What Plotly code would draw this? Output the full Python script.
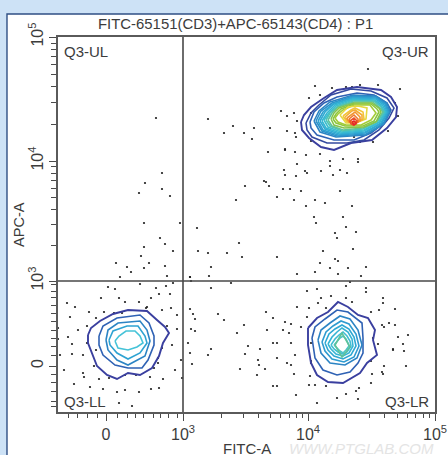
import plotly.graph_objects as go

# Display channels of the cytometer plot (biexponential scale, one channel unit per display step)
x_range = [0, 377]
y_range = [0, 375]
x_major = [48, 125, 250, 377]
y_major = [46, 131, 251, 375]
x_labels = ["0", "10<sup>3</sup>", "10<sup>4</sup>", "10<sup>5</sup>"]
y_labels = ["0", "10<sup>3</sup>", "10<sup>4</sup>", "10<sup>5</sup>"]
x_minor = [10, 19, 29, 39, 59, 69, 77, 85, 95, 102, 110, 119, 163, 185, 200, 212, 222, 231, 238, 244,
           288, 311, 326, 339, 349, 357, 365, 371]
y_minor = [6, 11, 21, 30, 38, 57, 66, 74, 82, 91, 99, 107, 115, 121, 128, 167, 188, 203, 215, 224, 232, 239, 246,
           288, 310, 326, 338, 348, 356, 363, 369]
gate_x = 125
gate_y = 131

ul_events = [(98,294),(150,293),(166,279),(104,239),(87,229),(104,223),(81,219),(112,216),(86,189),(122,189),(139,184),
             (102,174),(107,168),(86,165),(115,161),(83,156),(58,149),(91,149),(69,145),(86,144),(107,146),(73,140),(109,136),(62,135)]
ur_events = [(310,343),(257,326),(274,324),(288,325),(294,325),(302,327),(320,327),(342,323),(251,314),(262,317),(337,309),
             (223,301),(229,296),(236,299),(253,299),(239,291),(340,296),(175,286),(196,284),(212,284),(186,279),(229,281),
             (237,279),(238,275),(194,273),(330,281),(253,271),(296,275),(302,270),(315,270),(227,263),(227,262),(210,260),
             (237,260),(248,257),(262,258),(272,251),(285,253),(300,253),(300,250),(272,246),(239,248),(226,242),(227,237),
             (238,236),(247,241),(249,239),(263,241),(275,237),(282,242),(289,239),(206,231),(208,230),(211,226),(187,226),
             (225,223),(232,223),(243,221),(282,221),(219,215),(178,212),(236,212),(257,212),(267,209),(248,206),(294,206),
             (256,195),(285,195),(258,189),(288,185),(277,179),(298,180),(279,174),(181,169),(295,163),(265,161),(169,159),
             (184,155),(219,155),(277,153),(280,151),(262,149),(272,144),(290,144),(308,145),(257,140),(239,138),(280,138),
             (303,136),(140,161),(150,159),(153,145),(132,135),(151,136),(133,131)]
ll_events = [(115,129),(82,128),(50,125),(57,123),(98,124),(108,126),(101,118),(112,118),(43,114),(61,114),(93,114),
             (67,110),(81,110),(9,109),(17,105),(89,105),(88,104),(104,102),(113,104),(31,100),(46,100),(56,99),(64,99),
             (119,97),(12,95),(38,94),(29,86),(109,86),(0,84),(20,82),(119,83),(10,75),(0,73),(14,68),(29,69),(114,67),
             (104,64),(38,62),(2,57),(14,58),(25,57),(100,54),(123,52),(100,49),(36,46),(96,44),(6,42),(117,42),(25,39),
             (26,35),(41,33),(51,34),(67,37),(78,37),(92,35),(105,33),(124,34),(16,28),(32,25),(45,23),(67,22),(59,20),
             (81,20),(93,23),(101,24),(61,9),(74,6)]
lr_events = [(173,129),(292,130),(288,126),(249,121),(259,123),(308,124),(308,120),(273,116),(263,114),(288,114),(325,114),
             (260,109),(294,110),(325,109),(239,105),(251,104),(268,104),(321,102),(337,103),(208,100),(313,100),(249,95),
             (215,94),(166,92),(227,90),(186,87),(233,88),(243,85),(324,87),(326,85),(331,89),(337,87),(209,82),(225,82),
             (231,79),(179,79),(340,75),(350,77),(315,74),(215,69),(219,69),(233,69),(253,69),(320,68),(345,68),(190,66),
             (202,63),(335,63),(335,62),(346,61),(187,58),(237,57),(219,54),(200,52),(253,51),(253,49),(229,49),(201,47),
             (233,47),(313,51),(326,46),(348,46),(182,43),(207,43),(324,40),(325,38),(199,37),(236,38),(314,38),(252,36),
             (313,29),(251,27),(257,27),(268,26),(215,26),(219,26),(301,24),(298,21),(288,18),(238,17),(279,14),(300,13),
             (259,9),(132,103),(135,98),(160,98),(137,93),(133,83),(137,81),(130,69),(153,63),(132,59),(150,57),(134,48),
             (153,124),(132,135)]

ll_contours = [
    [(30,77),(33,84),(42,91),(55,98),(70,102),(89,101),(99,92),(107,85),(111,79),(105,69),(101,56),(94,44),(82,37),(70,39),(59,33),(49,37),(39,46),(34,59),(30,69)],
    [(41,76),(45,86),(59,94),(82,97),(91,89),(96,76),(96,67),(90,52),(84,44),(70,44),(57,47),(45,57),(41,67)],
    [(48,72),(50,82),(60,89),(82,91),(89,82),(92,71),(87,56),(70,47),(59,52),(50,62)],
    [(51,72),(55,81),(69,86),(80,86),(87,76),(89,69),(82,59),(70,53),(59,59),(52,67)],
    [(57,71),(61,76),(68,81),(77,81),(82,76),(85,69),(79,65),(70,62),(60,64)],
]
ll_colors = ["#3a3f9f", "#2f62b4", "#2c84c4", "#2ea3d2", "#45c3d8"]

lr_contours = [
    [(250,84),(259,94),(270,100),(280,110),(290,105),(300,97),(310,94),(317,82),(315,72),(319,57),(309,49),(302,39),(285,29),(270,30),(259,37),(253,49),(250,67)],
    [(254,74),(257,85),(267,93),(279,102),(290,100),(304,89),(305,74),(305,59),(300,49),(292,40),(279,37),(265,42),(257,54)],
    [(260,72),(263,82),(272,89),(282,96),(292,93),(300,82),(304,67),(299,54),(287,47),(272,49),(263,59)],
    [(264,70),(268,80),(275,86),(283,91),(291,88),(298,78),(301,66),(296,55),(286,50),(274,53),(267,61)],
    [(267,69),(271,78),(277,83),(284,87),(291,83),(296,75),(298,66),(293,57),(285,53),(276,56),(270,62)],
    [(270,68),(274,75),(279,80),(284,84),(290,80),(294,73),(295,66),(291,59),(285,56),(278,58),(273,63)],
    [(273,67),(277,73),(281,77),(285,80),(289,76),(292,71),(293,66),(289,60),(285,58),(280,60),(276,63)],
    [(276,67),(279,71),(282,74),(285,76),(288,73),(290,69),(291,66),(288,62),(285,59),(282,61),(279,64)],
    [(277,67),(284,79),(292,65),(284,55)],
]
lr_colors = ["#3a3f9f", "#2f62b4", "#2c84c4", "#2e9bd0", "#2ea8d3", "#35b4d4", "#3fbdd2", "#4cc4c8", "#5fc29a"]

ur_contours = [
    [(243,290),(246,297),(253,305),(266,314),(279,322),(299,325),(323,322),(333,315),(339,305),(338,295),(329,284),(314,272),(293,269),(276,262),(263,265),(251,274),(244,282)],
    [(248,289),(253,299),(261,307),(273,317),(293,323),(313,321),(329,314),(336,304),(331,294),(321,282),(306,272),(289,269),(269,269),(254,275),(249,282)],
    [(252,290),(256,300),(266,309),(279,315),(299,319),(316,317),(329,309),(333,302),(326,289),(313,279),(296,272),(276,272),(259,277),(253,284)],
    [(256,291),(261,301),(272,310),(295,317),(318,316),(329,309),(332,300),(326,288),(308,277),(278,275),(262,280)],
    [(258,291),(263,301),(274,309),(295,316),(318,315),(328,308),(331,300),(325,288),(308,278),(279,276),(264,281)],
    [(260,291),(265,300),(275,308),(295,315),(318,314),(327,308),(330,300),(324,289),(307,279),(280,277),(265,282)],
    [(262,291),(267,300),(276,308),(295,314),(318,313),(326,307),(329,300),(323,289),(307,280),(281,278),(267,283)],
    [(264,291),(269,299),(277,307),(295,313),(317,312),(325,306),(328,300),(322,290),(306,281),(282,279),(268,284)],
    [(266,292),(271,299),(278,306),(295,312),(317,311),(324,305),(327,300),(321,290),(306,282),(283,280),(270,285)],
    [(268,292),(272,299),(279,305),(295,311),(316,311),(323,305),(326,300),(320,291),(305,283),(284,281),(272,286)],
    [(270,292),(274,299),(280,305),(296,310),(315,310),(322,304),(325,300),(319,291),(305,284),(285,282),(274,286)],
    [(273,293),(276,299),(281,304),(296,309),(314,309),(321,304),(323,300),(318,290),(306,285),(286,284),(276,287)],
    [(275,293),(278,298),(283,303),(296,308),(313,308),(319,303),(321,300),(316,291),(305,286),(287,286),(278,289)],
    [(277,294),(280,298),(285,302),(296,307),(312,307),(316,302),(318,299),(313,292),(303,287),(288,287),(280,290)],
    [(282,297),(290,305),(300,306),(309,304),(308,293),(298,289),(288,289)],
    [(285,296),(293,302),(297,304),(305,300),(306,293),(297,290),(289,290)],
    [(287,295),(294,301),(297,302),(304,297),(304,292),(296,290),(290,291)],
    [(289,294),(295,299),(297,300),(302,295),(302,291),(296,289),(291,290)],
    [(291,293),(296,297),(300,293),(300,290),(296,288),(292,290)],
    [(292,291),(296,294),(299,291),(298,288),(295,287),(293,288)],
    [(294,290),(296,291),(298,289),(296,287)],
]
ur_colors = ["#3a3f9f", "#34499f", "#2f62b4", "#2c84c4", "#2c92ca", "#2e9fd0", "#30abd3", "#35b6d3", "#3cbecf", "#4cc3bb",
             "#5fc39a", "#86c44c", "#8cc63f", "#a4cc3a", "#e6d93f", "#f2c53a", "#f4ad35", "#f19530", "#ee7a2c", "#e9502a", "#e3262b"]

fig = go.Figure()

for events in (ul_events, ur_events, ll_events, lr_events):
    fig.add_trace(go.Scatter(x=[e[0] for e in events], y=[e[1] for e in events], mode="markers",
                             marker=dict(size=2.2, color="#1c1c1c"), hoverinfo="skip", showlegend=False))

for contours, colors in ((ll_contours, ll_colors), (lr_contours, lr_colors), (ur_contours, ur_colors)):
    for poly, col in zip(contours, colors):
        closed = poly + poly[:1]
        wid = 1.9 if col == "#3a3f9f" else 1.6
        fig.add_trace(go.Scatter(x=[p[0] for p in closed], y=[p[1] for p in closed], mode="lines",
                                 line=dict(color=col, width=wid), hoverinfo="skip", showlegend=False))

FONT = "Liberation Sans, Arial, sans-serif"
axis = dict(showgrid=False, zeroline=False, showline=True, mirror=True, linecolor="#5a5a5a", linewidth=1.5,
            ticks="outside", tickcolor="#4a4a4a", tickwidth=1.2, ticklen=7, tickmode="array", automargin=False,
            tickfont=dict(family=FONT, size=16, color="#3c3c3c"))
fig.update_xaxes(range=x_range, tickvals=x_major, ticktext=x_labels,
                 minor=dict(tickmode="array", tickvals=x_minor, ticks="outside", ticklen=4, tickcolor="#4a4a4a", tickwidth=1),
                 **axis)
fig.update_yaxes(range=y_range, tickvals=y_major, ticktext=y_labels, tickangle=-90,
                 minor=dict(tickmode="array", tickvals=y_minor, ticks="outside", ticklen=5, tickcolor="#4a4a4a", tickwidth=1),
                 **axis)

def note(text, x, y, size=12, color="#3c3c3c", xref="x", yref="y", xanchor="center", **kw):
    fig.add_annotation(text=text, x=x, y=y, xref=xref, yref=yref, showarrow=False, yanchor="middle", xanchor=xanchor,
                       font=dict(family=FONT, size=size, color=color), **kw)

note("Q3-UL", 3.5, 361, size=15, xanchor="left")
note("Q3-UR", 373, 361, size=15, xanchor="right")
note("Q3-LL", 3.5, 11, size=15, xanchor="left")
note("Q3-LR", 373, 11, size=15, xanchor="right")
note("FITC-65151(CD3)+APC-65143(CD4) : P1", 0.471, 1.035, xref="paper", yref="paper", size=14.9)
note("FITC-A", 0.5, -0.097, xref="paper", yref="paper", size=15)
note("APC-A", -0.1034, 0.499, xref="paper", yref="paper", size=14.5, textangle=-90)
note("<i>WWW.PTGLAB.COM</i>", 0.804, -0.096, xref="paper", yref="paper", size=15, color="#e4e4e4")

fig.add_shape(type="line", x0=gate_x, x1=gate_x, y0=y_range[0], y1=y_range[1], line=dict(color="#484848", width=1.6))
fig.add_shape(type="line", x0=x_range[0], x1=x_range[1], y0=gate_y, y1=gate_y, line=dict(color="#484848", width=1.6))
# white panel with navy edge on the pale blue page
fig.add_shape(type="rect", xref="paper", yref="paper", x0=-0.1353, x1=1.1, y0=-0.2, y1=1.0613,
              fillcolor="white", line=dict(color="#2f4f84", width=1.4), layer="below")

fig.update_layout(width=448, height=455, autosize=False, paper_bgcolor="#cde2f6", plot_bgcolor="rgba(0,0,0,0)",
                  margin=dict(l=58, r=13, t=37, b=43, autoexpand=False), showlegend=False)

fig.write_html("out.html", config={"displayModeBar": False}, post_script="document.body.style.margin='0';")
